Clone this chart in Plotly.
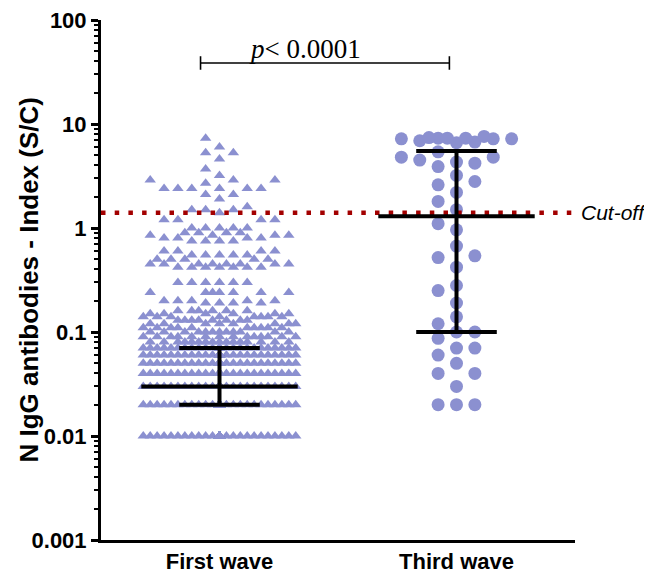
import numpy as np
import plotly.graph_objects as go

# ---------------- data ----------------
categories = ["First wave", "Third wave"]

first_wave_levels = [0.01, 0.02, 0.03, 0.04, 0.05, 0.06, 0.07, 0.08, 0.09, 0.10,
                     0.11, 0.12, 0.13, 0.14, 0.15, 0.16, 0.19, 0.20, 0.24, 0.30,
                     0.42, 0.45, 0.50, 0.55, 0.60, 0.75, 0.80, 0.85, 0.90, 1.0,
                     1.2, 1.4, 1.5, 1.6, 1.9, 2.1, 2.4, 2.7, 2.9, 3.2,
                     3.7, 4.6, 5.3, 6.0, 7.3]
first_wave_counts = [110, 150, 170, 55, 45, 40, 35, 16, 14, 12,
                     10, 8, 8, 8, 6, 6, 4, 5, 7, 6,
                     7, 8, 5, 5, 4, 4, 4, 4, 4, 5,
                     4, 1, 3, 1, 1, 2, 6, 1, 3, 1,
                     1, 1, 2, 1, 1]

third_wave_values = [7.2, 5.4, 7.2, 7.4, 6.7, 7.3, 6.6, 7.3, 6.9, 7.6, 7.2, 7.3,
                     4.8, 4.8, 4.3, 3.9, 4.2, 4.5, 3.2, 2.6, 2.2, 2.8, 1.8, 1.5,
                     1.1, 0.96, 0.67, 0.52, 0.54, 0.42, 0.28, 0.25, 0.19, 0.14,
                     0.12, 0.10, 0.10, 0.087, 0.07, 0.07, 0.06, 0.05, 0.04, 0.04,
                     0.03, 0.02, 0.02, 0.02]

medians = [0.03, 1.3]
q1_values = [0.02, 0.10]
q3_values = [0.07, 5.5]
cutoff_value = 1.4
bracket_value = 38.6
p_label = "<i>p</i>&lt; 0.0001"
y_title = "N IgG antibodies - Index (S/C)"

y_tickvals = [0.001, 0.01, 0.1, 1, 10, 100]
y_ticktext = ["0.001", "0.01", "0.1", "1", "10", "100"]

# ---------------- layout helpers ----------------
X_PX = 236.0   # pixels per x unit
Y_PX = 104.0   # pixels per decade
MARKER_COLOR = "#8B90D0"
CUT_COLOR = "#A30000"
FONT = "Arial, Liberation Sans, sans-serif"
OFF = 8        # default page (body) margin of the html page


def swarm(values, step_px, max_slot, max_half, min_dy):
    vals = np.sort(np.asarray(values, dtype=float))
    slots = [0.0]
    for k in range(1, max_slot + 1):
        slots += [-float(k), float(k)]
    for k in range(max_half + 1):
        slots += [-(k + 0.5), k + 0.5]
    last = {s: -np.inf for s in slots}
    offs = []
    for v in vals:
        y = np.log10(v) * Y_PX
        chosen = None
        for s in slots:
            if y - last[s] >= min_dy:
                chosen = s
                break
        if chosen is None:
            chosen = max(slots, key=lambda s: y - last[s])
        last[chosen] = y
        offs.append(chosen * step_px / X_PX)
    return vals, np.array(offs)


fw_vals = np.repeat(first_wave_levels, first_wave_counts)
fw_y, fw_off = swarm(fw_vals, 13.8, 5, 5, 9)
tw_y, tw_off = swarm(third_wave_values, 18.3, 3, 2, 13)

fig = go.Figure()

fig.add_trace(go.Scatter(
    x=0 + fw_off, y=fw_y, mode="markers",
    marker=dict(symbol="triangle-up", size=10, color=MARKER_COLOR, line=dict(width=0)),
    hoverinfo="skip", showlegend=False))

fig.add_trace(go.Scatter(
    x=1 + tw_off, y=tw_y, mode="markers",
    marker=dict(symbol="circle", size=13, color=MARKER_COLOR, line=dict(width=0)),
    hoverinfo="skip", showlegend=False))

# cut-off line
fig.add_trace(go.Scatter(
    x=[-0.5, 1.5], y=[cutoff_value, cutoff_value], mode="lines",
    line=dict(color=CUT_COLOR, width=4.5, dash="4.5px,9.2px"),
    hoverinfo="skip", showlegend=False))

# median & IQR bars
bx, by = [], []
for i in range(len(categories)):
    bx += [i - 0.33, i + 0.33, None, i - 0.17, i + 0.17, None,
           i - 0.17, i + 0.17, None, i, i, None]
    by += [medians[i], medians[i], None, q1_values[i], q1_values[i], None,
           q3_values[i], q3_values[i], None, q1_values[i], q3_values[i], None]
fig.add_trace(go.Scatter(x=bx, y=by, mode="lines",
                         line=dict(color="black", width=4),
                         hoverinfo="skip", showlegend=False))

# significance bracket
tick = 10 ** 0.065
fig.add_trace(go.Scatter(
    x=[-0.08, 0.97, None, -0.08, -0.08, None, 0.97, 0.97],
    y=[bracket_value, bracket_value, None, bracket_value / tick, bracket_value * tick,
       None, bracket_value / tick, bracket_value * tick],
    mode="lines", line=dict(color="black", width=1.6),
    hoverinfo="skip", showlegend=False))

fig.add_annotation(x=0.36, y=np.log10(bracket_value), xref="x", yref="y",
                   text=p_label, showarrow=False, yanchor="bottom", yshift=-3,
                   font=dict(family="Liberation Serif, Times New Roman, serif",
                             size=27, color="black"))

fig.add_annotation(x=1.0, y=np.log10(cutoff_value), xref="paper", yref="y",
                   text="<i>Cut-off</i>", showarrow=False, xanchor="left", xshift=4,
                   font=dict(family=FONT, size=21, color="black"))

L, T = 101 - OFF, 20 - OFF
W, H = 652 - OFF, 575 - OFF
R = W - (575 - OFF)
B = H - (540 - OFF)

fig.add_annotation(x=0, y=0.5, xref="paper", yref="paper", xanchor="center",
                   yanchor="middle", xshift=28.5 - 101, textangle=-90,
                   text=y_title, showarrow=False,
                   font=dict(family=FONT, size=26, weight="bold", color="black"))

fig.update_layout(
    width=W, height=H,
    margin=dict(l=L, r=R, t=T, b=B),
    paper_bgcolor="white", plot_bgcolor="white",
    font=dict(family=FONT, color="black"),
    xaxis=dict(range=[-0.5, 1.5], tickvals=[0, 1], ticktext=categories,
               showline=True, linewidth=3, linecolor="black", ticks="",
               showgrid=False, zeroline=False, automargin=False,
               ticklabeloverflow="allow",
               tickfont=dict(family=FONT, size=22, weight="bold", color="black")),
    yaxis=dict(type="log", range=[-3, 2], tickvals=y_tickvals, ticktext=y_ticktext,
               showline=True, linewidth=3, linecolor="black",
               ticks="outside", ticklen=7, tickwidth=2.5, tickcolor="black",
               minor=dict(ticks="outside", ticklen=4, tickwidth=1.5, dtick="D1",
                          tickcolor="black", showgrid=False),
               showgrid=False, zeroline=False, automargin=False,
               ticklabeloverflow="allow",
               tickfont=dict(family=FONT, size=22, weight="bold", color="black")),
)

fig.write_html("out.html")
